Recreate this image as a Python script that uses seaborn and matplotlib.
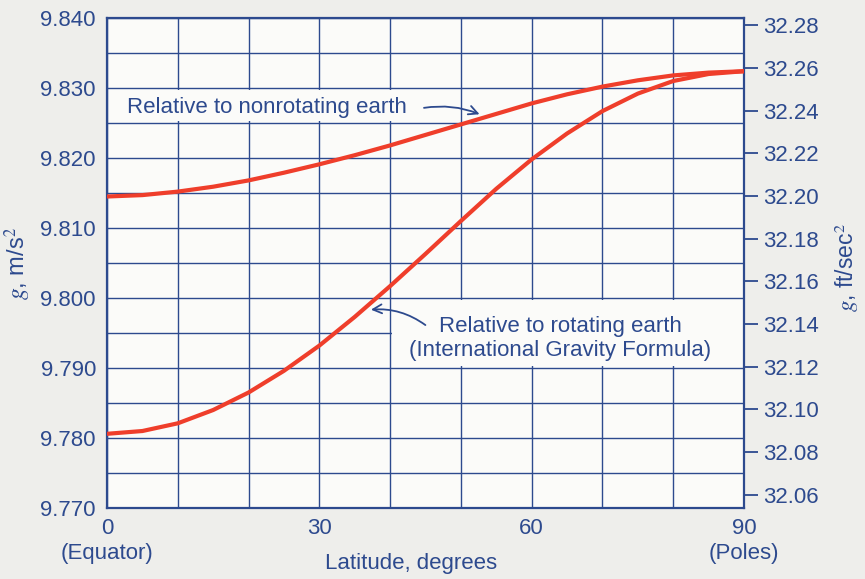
import matplotlib
matplotlib.use("Agg")
import matplotlib.pyplot as plt
from matplotlib.patches import Rectangle
import seaborn as sns
import numpy as np

# values (latitude in degrees, g in m/s^2)
latitude = [0, 5, 10, 15, 20, 25, 30, 35, 40, 45, 50, 55, 60, 65, 70, 75, 80, 85, 90]
g_rotating = [9.7806, 9.7810, 9.7821, 9.7840, 9.7865, 9.7896, 9.7932, 9.7973, 9.8017,
              9.8063, 9.8110, 9.8156, 9.8198, 9.8235, 9.8267, 9.8292, 9.8310, 9.8320, 9.8324]
g_nonrotating = [9.8145, 9.8147, 9.8152, 9.8159, 9.8168, 9.8179, 9.8191, 9.8204, 9.8218,
                 9.8233, 9.8248, 9.8263, 9.8278, 9.8291, 9.8302, 9.8311, 9.8318, 9.8322, 9.8324]

left_ticks = [9.770, 9.780, 9.790, 9.800, 9.810, 9.820, 9.830, 9.840]
right_ticks = [32.06, 32.08, 32.10, 32.12, 32.14, 32.16, 32.18, 32.20, 32.22, 32.24, 32.26, 32.28]
x_ticks = [0, 30, 60, 90]
x_ticklabels = ["0\n(Equator)", "30", "60", "90\n(Poles)"]
M_TO_FT = 3.28084

ink = "#2d4a8e"
red = "#ef3e2b"

sns.set_style("white")
plt.rcParams["font.family"] = ["Liberation Sans", "DejaVu Sans"]
plt.rcParams["mathtext.fontset"] = "stix"

fig = plt.figure(figsize=(8.65, 5.79), dpi=100, facecolor="#eeeeeb")
ax = fig.add_axes([0.1237, 0.1226, 0.7364, 0.8463])
ax.set_facecolor("#fbfbf9")

sns.lineplot(x=latitude, y=g_nonrotating, ax=ax, color=red, lw=3, zorder=4,
             solid_joinstyle="round", solid_capstyle="round")
sns.lineplot(x=latitude, y=g_rotating, ax=ax, color=red, lw=3, zorder=4,
             solid_joinstyle="round", solid_capstyle="round")

ax.set_xlim(0, 90)
ax.set_ylim(9.770, 9.840)
ax.set_xticks(np.arange(0, 91, 10), minor=True)
ax.set_yticks(np.arange(9.770, 9.8401, 0.005), minor=True)
ax.set_xticks(x_ticks)
ax.set_xticklabels(x_ticklabels, linespacing=1.25)
ax.set_yticks(left_ticks)
ax.set_yticklabels([f"{v:.3f}" for v in left_ticks])
ax.grid(True, which="both", color=ink, lw=1.0, zorder=1)
ax.set_axisbelow(True)
ax.tick_params(axis="both", which="both", length=0, colors=ink, labelsize=16)
ax.tick_params(axis="y", pad=8)
ax.tick_params(axis="x", pad=7)
for s in ax.spines.values():
    s.set_color(ink)
    s.set_linewidth(1.6)

# blank patches behind the annotation text
ax.add_patch(Rectangle((0.3, 9.8253), 44.2, 0.0044, facecolor="#fbfbf9", edgecolor="none", zorder=2))
ax.add_patch(Rectangle((40.3, 9.7903), 49.5, 0.0094, facecolor="#fbfbf9", edgecolor="none", zorder=2))

ax.set_xlabel("Latitude, degrees", color=ink, fontsize=16)
ax.xaxis.set_label_coords(0.477, -0.092)
ax.set_ylabel("$g$, m/s$^2$", color=ink, fontsize=17)
ax.yaxis.set_label_coords(-0.116, 0.5)

ax.text(2.8, 9.8272, "Relative to nonrotating earth", color=ink, fontsize=16,
        ha="left", va="center", zorder=5)
ax.annotate("", xy=(53.0, 9.8261), xytext=(44.4, 9.8271),
            arrowprops=dict(arrowstyle="->", color=ink, lw=1.3,
                            connectionstyle="arc3,rad=-0.15", mutation_scale=16), zorder=5)
ax.text(64.0, 9.7942, "Relative to rotating earth\n(International Gravity Formula)",
        color=ink, fontsize=16, ha="center", va="center", multialignment="center",
        linespacing=1.2, zorder=5)
ax.annotate("", xy=(36.9, 9.7983), xytext=(45.3, 9.7959),
            arrowprops=dict(arrowstyle="->", color=ink, lw=1.3,
                            connectionstyle="arc3,rad=0.2", mutation_scale=16), zorder=5)

# right axis in ft/sec^2
ax2 = ax.twinx()
ax2.set_ylim(9.770 * M_TO_FT, 9.840 * M_TO_FT)
ax2.set_yticks(right_ticks)
ax2.set_yticklabels([f"{v:.2f}" for v in right_ticks])
ax2.tick_params(axis="y", direction="out", length=10, width=1.3, colors=ink,
                labelsize=16, pad=4)
for s in ax2.spines.values():
    s.set_visible(False)
ax2.set_ylabel("$g$, ft/sec$^2$", color=ink, fontsize=16.5, rotation=90)
ax2.yaxis.set_label_coords(1.14, 0.49)

fig.savefig("out.png", dpi=100, facecolor=fig.get_facecolor())
